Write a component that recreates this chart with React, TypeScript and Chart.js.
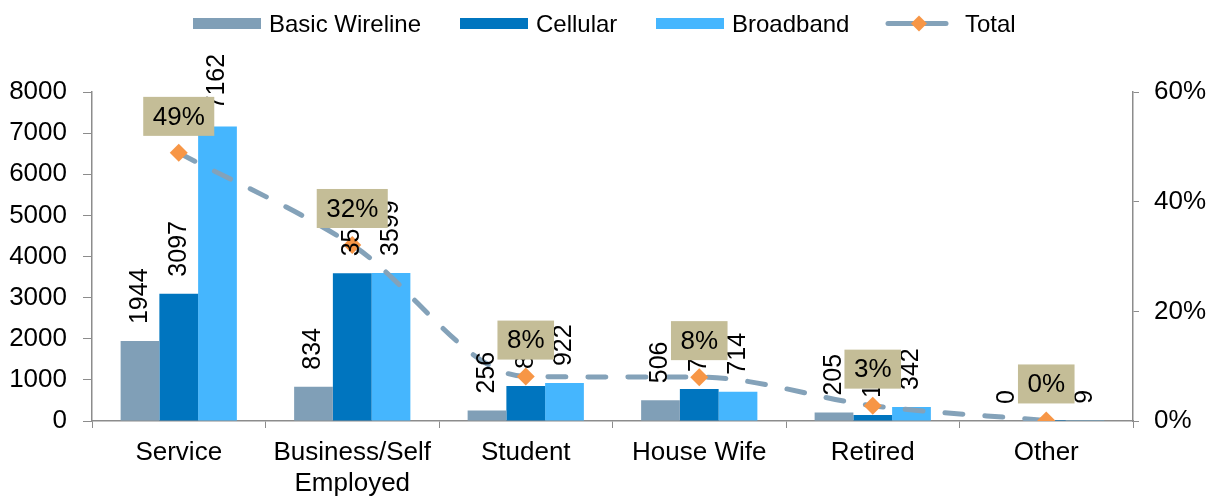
import React, { useEffect, useRef } from "react";
import { Chart, registerables } from "chart.js";

Chart.register(...registerables);

const categories: (string | string[])[] = [
  "Service",
  ["Business/Self", "Employed"],
  "Student",
  "House Wife",
  "Retired",
  "Other",
];
const basicWireline = [1944, 834, 256, 506, 205, 0];
const cellular = [3097, 3590, 851, 778, 146, 25];
const broadband = [7162, 3599, 922, 714, 342, 9];
const totalShare = [0.489, 0.321, 0.081, 0.08, 0.028, 0.001];
const seriesNames = ["Basic Wireline", "Cellular", "Broadband", "Total"];

const FONT = '"Liberation Sans", Arial, Helvetica, sans-serif';
const C_WIRE = "#809FB7";
const C_CELL = "#0075BF";
const C_BROAD = "#45B6FE";
const C_LINE = "#84A2B9";
const C_DIAMOND = "#F79646";
const C_BOX = "#C4BD97";
const C_AXIS = "#8C8C8C";

const labelPlugin = {
  id: "customLabels",
  afterDatasetsDraw(chart: any) {
    const ctx = chart.ctx;
    ctx.save();
    ctx.font = `25px ${FONT}`;
    ctx.fillStyle = "#000";
    ctx.textBaseline = "middle";
    ctx.textAlign = "left";
    [1, 2, 3].forEach((di) => {
      const meta = chart.getDatasetMeta(di);
      meta.data.forEach((bar: any, i: number) => {
        const v = chart.data.datasets[di].data[i];
        ctx.save();
        ctx.translate(bar.x, bar.y - 17);
        ctx.rotate(-Math.PI / 2);
        ctx.fillText(String(v), 0, 0);
        ctx.restore();
      });
    });
    const lineMeta = chart.getDatasetMeta(0);
    ctx.font = `26px ${FONT}`;
    ctx.textAlign = "center";
    lineMeta.data.forEach((pt: any, i: number) => {
      const txt = Math.round(totalShare[i] * 100) + "%";
      const w = ctx.measureText(txt).width + 19;
      const h = 39;
      const bottom = pt.y - 17;
      ctx.fillStyle = C_BOX;
      ctx.fillRect(pt.x - w / 2, bottom - h, w, h);
      ctx.fillStyle = "#000";
      ctx.fillText(txt, pt.x, bottom - h / 2 + 1);
    });
    ctx.restore();
  },
  afterDraw(chart: any) {
    const ctx = chart.ctx;
    ctx.save();
    ctx.font = `24px ${FONT}`;
    ctx.textBaseline = "alphabetic";
    ctx.textAlign = "left";
    const boxes = [
      { x: 193, color: C_WIRE, name: seriesNames[0] },
      { x: 460, color: C_CELL, name: seriesNames[1] },
      { x: 656, color: C_BROAD, name: seriesNames[2] },
    ];
    boxes.forEach((b) => {
      ctx.fillStyle = b.color;
      ctx.fillRect(b.x, 18, 68, 11);
      ctx.fillStyle = "#000";
      ctx.fillText(b.name, b.x + 76, 32);
    });
    ctx.strokeStyle = C_LINE;
    ctx.lineWidth = 5;
    ctx.lineCap = "round";
    ctx.beginPath();
    ctx.moveTo(888, 23.5);
    ctx.lineTo(946, 23.5);
    ctx.stroke();
    ctx.fillStyle = C_DIAMOND;
    ctx.beginPath();
    ctx.moveTo(919 - 8, 23.5);
    ctx.lineTo(919, 23.5 - 8);
    ctx.lineTo(919 + 8, 23.5);
    ctx.lineTo(919, 23.5 + 8);
    ctx.closePath();
    ctx.fill();
    ctx.fillStyle = "#000";
    ctx.fillText(seriesNames[3], 965, 32);
    ctx.restore();
  },
};

export default function App() {
  const canvasRef = useRef<HTMLCanvasElement | null>(null);

  useEffect(() => {
    const canvas = canvasRef.current;
    if (!canvas) return;
    const chart = new Chart(canvas, {
      type: "bar",
      data: {
        labels: categories as any,
        datasets: [
          {
            type: "line",
            label: seriesNames[3],
            data: totalShare,
            yAxisID: "y2",
            borderColor: C_LINE,
            borderWidth: 5,
            borderDash: [18, 22],
            borderCapStyle: "round",
            cubicInterpolationMode: "monotone",
            pointStyle: "rectRot",
            pointRadius: 9,
            pointBorderWidth: 0,
            pointBackgroundColor: C_DIAMOND,
            pointBorderColor: C_DIAMOND,
            fill: false,
            order: 0,
          } as any,
          {
            label: seriesNames[0],
            data: basicWireline,
            backgroundColor: C_WIRE,
            yAxisID: "y",
            order: 1,
          },
          {
            label: seriesNames[1],
            data: cellular,
            backgroundColor: C_CELL,
            yAxisID: "y",
            order: 1,
          },
          {
            label: seriesNames[2],
            data: broadband,
            backgroundColor: C_BROAD,
            yAxisID: "y",
            order: 1,
          },
        ],
      },
      options: {
        animation: false,
        responsive: false,
        maintainAspectRatio: false,
        datasets: {
          bar: { categoryPercentage: 0.67, barPercentage: 1.0 },
        } as any,
        layout: { padding: { top: 92, left: 0, right: 0, bottom: 0 } },
        plugins: {
          legend: { display: false },
          tooltip: { enabled: false },
        },
        scales: {
          x: {
            grid: {
              drawOnChartArea: false,
              drawTicks: true,
              tickLength: 7,
              color: C_AXIS,
              offset: true,
            },
            border: { color: C_AXIS, width: 1.5 },
            ticks: {
              color: "#000",
              font: { family: FONT, size: 26, lineHeight: 1.2 },
              padding: 9,
              maxRotation: 0,
              autoSkip: false,
            },
            afterFit: (s: any) => {
              s.height = 76;
            },
          },
          y: {
            position: "left",
            min: 0,
            max: 8000,
            grid: {
              drawOnChartArea: false,
              drawTicks: true,
              tickLength: 9,
              color: C_AXIS,
            },
            border: { color: C_AXIS, width: 1.5 },
            ticks: {
              stepSize: 1000,
              color: "#000",
              font: { family: FONT, size: 26 },
              padding: 16,
              callback: (v: any) => String(Math.round(Number(v))),
            },
            afterFit: (s: any) => {
              s.width = 92;
            },
          },
          y2: {
            position: "right",
            min: 0,
            max: 0.6,
            grid: {
              drawOnChartArea: false,
              drawTicks: true,
              tickLength: 6,
              color: C_AXIS,
            },
            border: { color: C_AXIS, width: 1.5 },
            ticks: {
              stepSize: 0.2,
              color: "#000",
              font: { family: FONT, size: 26 },
              padding: 15,
              callback: (v: any) => Math.round(Number(v) * 100) + "%",
            },
            afterFit: (s: any) => {
              s.width = 89;
            },
          },
        },
      },
      plugins: [labelPlugin],
    });
    return () => chart.destroy();
  }, []);

  return (
    <div style={{ position: "absolute", left: 0, top: 0, width: 1222, height: 497, background: "#fff" }}>
      <canvas ref={canvasRef} width={1222} height={497} style={{ display: "block" }} />
    </div>
  );
}
